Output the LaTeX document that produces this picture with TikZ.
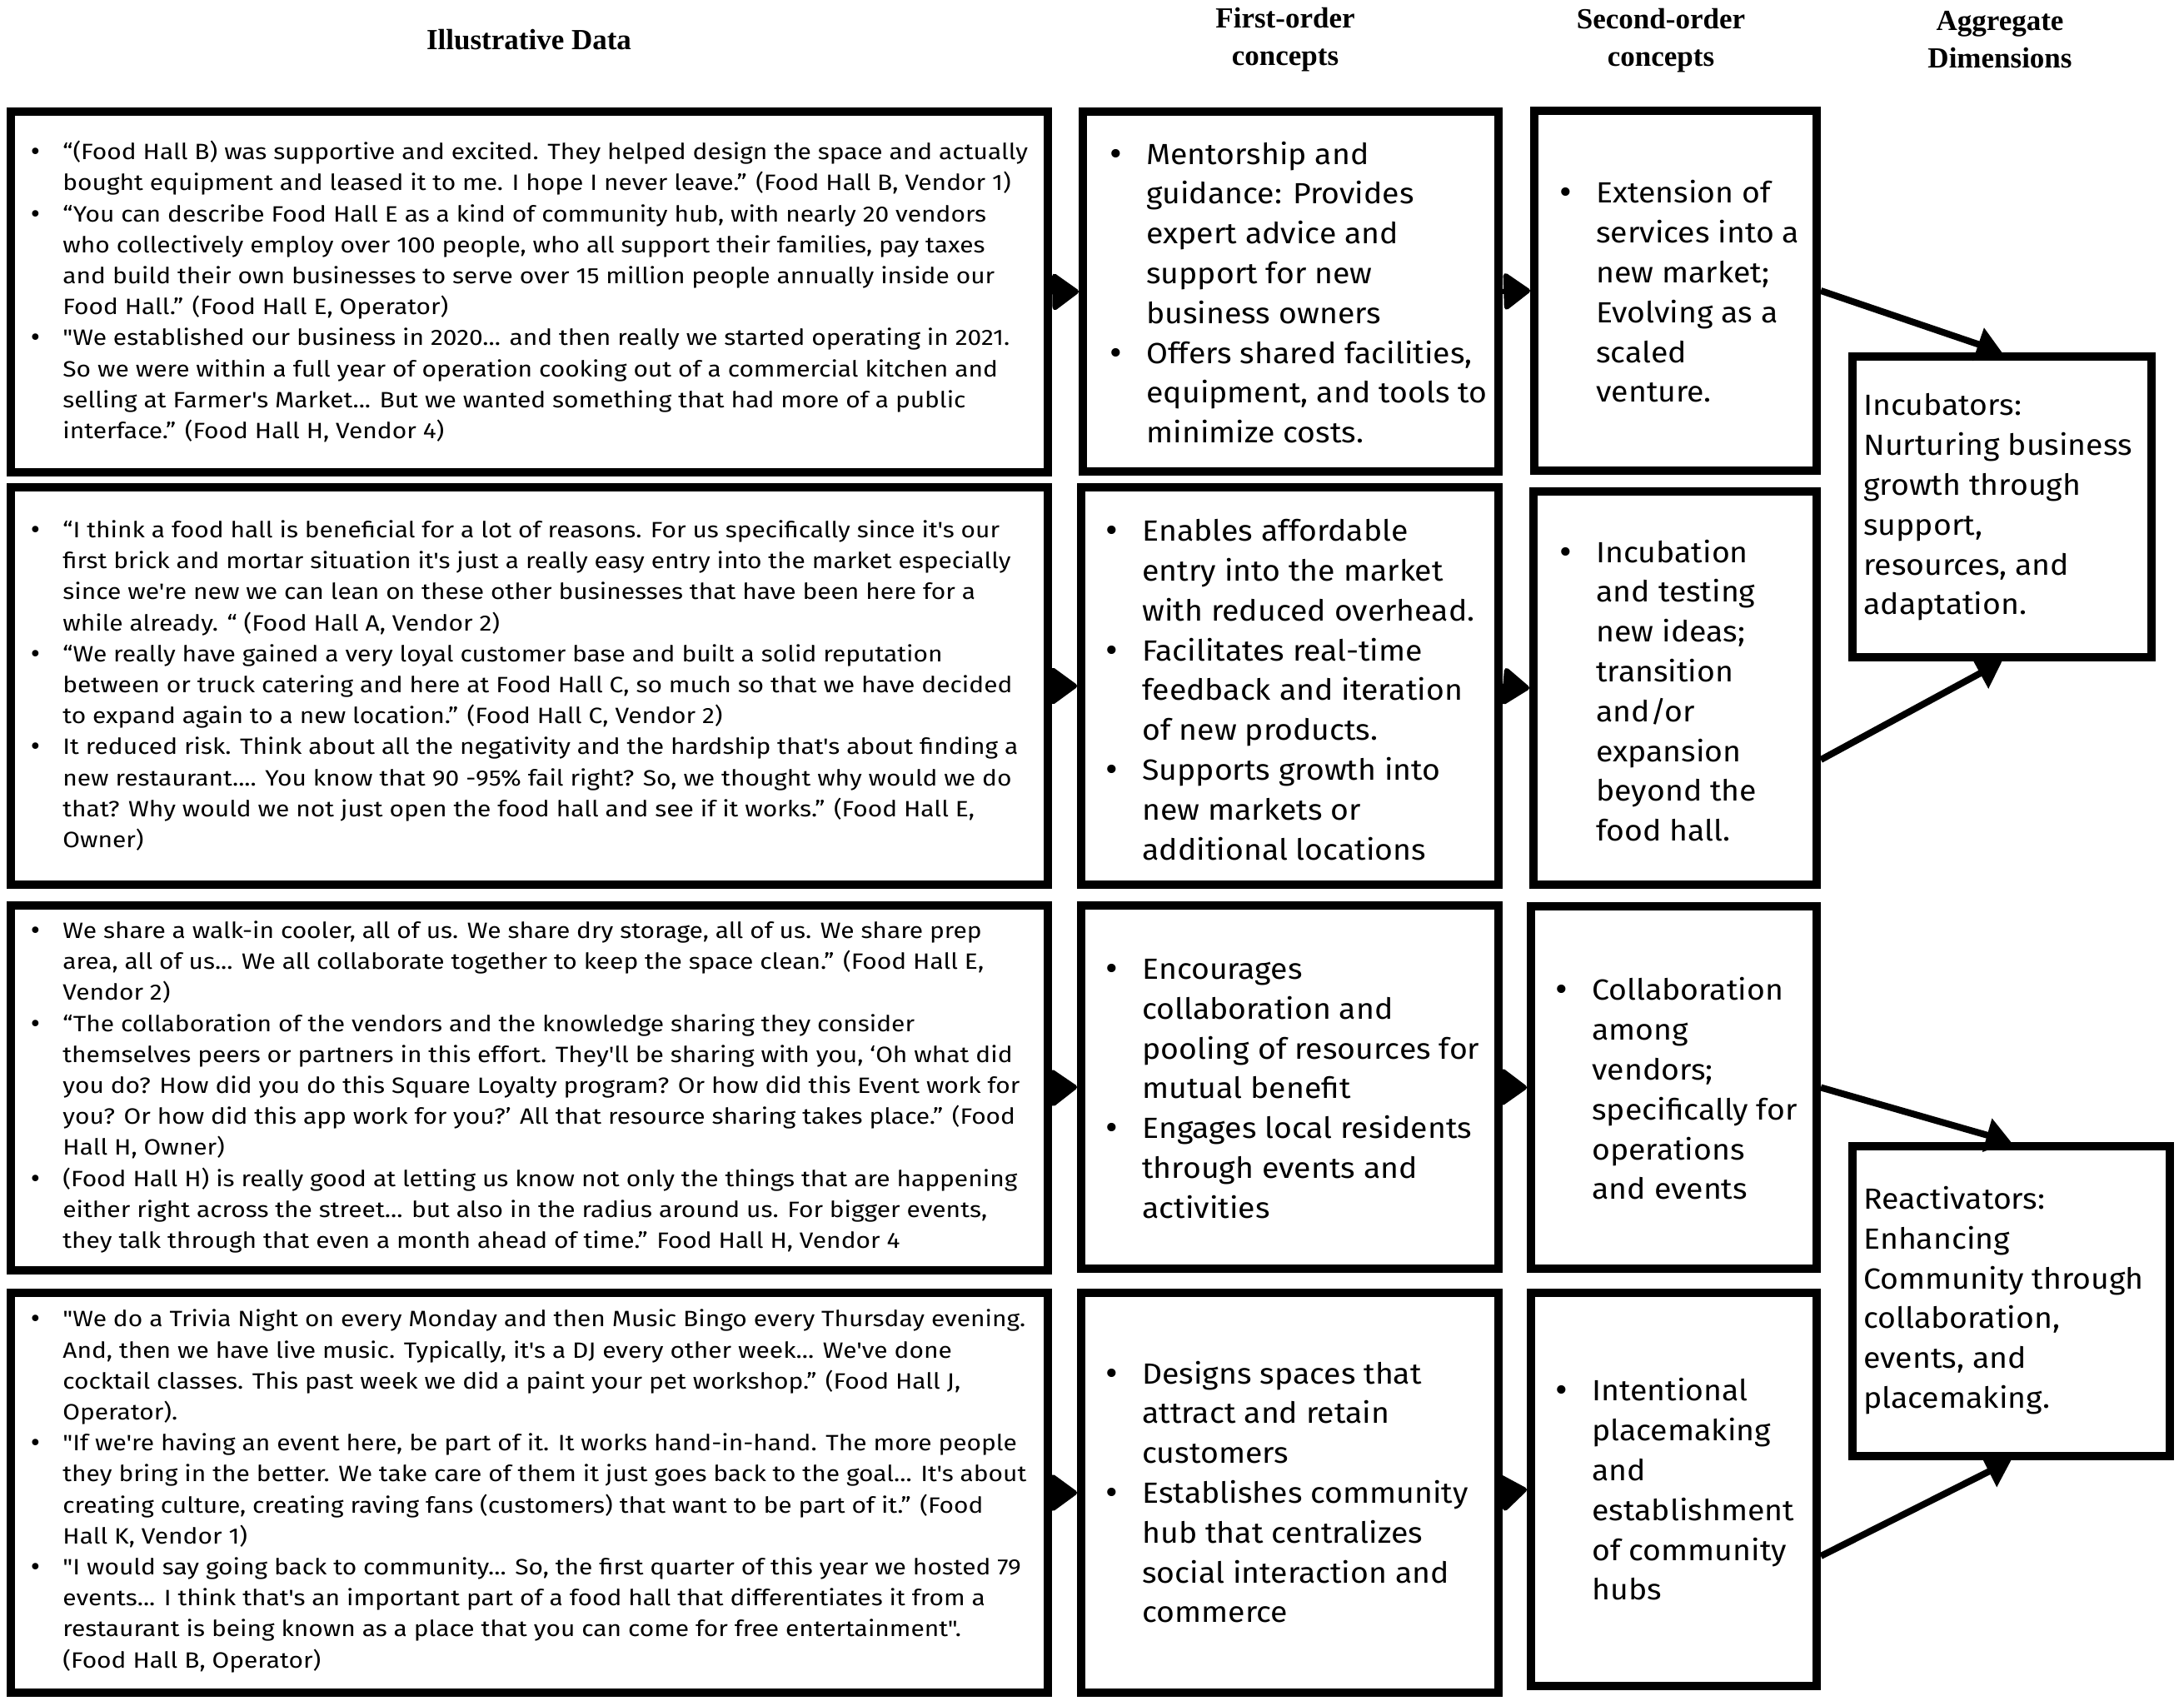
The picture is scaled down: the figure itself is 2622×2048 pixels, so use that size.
\documentclass[tikz,border=0pt]{standalone}
\usepackage{fontspec}
\setmainfont{Fira Sans}[Ligatures=TeXOff]
\newfontfamily\datafont{Fira Sans}[Ligatures=TeXOff, FakeStretch=1.125]
\newfontfamily\concfont{Fira Sans}[Ligatures=TeXOff, FakeStretch=1.07]
\newfontfamily\bulfont{DejaVu Sans}
\newfontfamily\hdfont{Liberation Serif}
\usetikzlibrary{arrows.meta,fit}
\newcommand{\bu}[1]{\llap{{\bulfont\textbullet}\hspace{#1}}}
\begin{document}
\begin{tikzpicture}[x=0.5pt,y=-0.5pt,
  box/.style={draw=black, line width=5pt, inner sep=0pt, fill=white},
  datatext/.style={anchor=west, inner sep=0pt, align=left, font=\datafont\fontsize{13.3pt}{18.6pt}\selectfont},
  conctext/.style={anchor=west, inner sep=0pt, align=left, font=\concfont\fontsize{17.5pt}{23.9pt}\selectfont},
  head/.style={align=center, inner sep=0pt, font=\hdfont\bfseries\fontsize{17.5pt}{22.5pt}\selectfont},
  chev/.style={line width=3pt, -{Triangle[length=17pt,width=24pt,round]}},
  diag/.style={line width=4pt, -{Triangle[length=15pt,width=20pt]}},
]
\fill[white] (0,0) rectangle (2622,2048);
\useasboundingbox (0,0) rectangle (2622,2048);

% headers
\node[head] (h0) at (635,48) {Illustrative Data};
\node[head] (h1) at (1543,48) {First-order\\concepts};
\node[head] (h2) at (1994,49) {Second-order\\concepts};
\node[head] (h3) at (2401,48) {Aggregate\\Dimensions};

% boxes
\node[box, fit={(13,134) (1258,567)}] (d1) {};
\node[box, fit={(1300,134) (1799,566)}] (f1) {};
\node[box, fit={(1842,133) (2181,565)}] (s1) {};
\node[box, fit={(13,585) (1258,1062)}] (d2) {};
\node[box, fit={(1298,585) (1799,1062)}] (f2) {};
\node[box, fit={(1841,590) (2181,1062)}] (s2) {};
\node[box, fit={(13,1087) (1258,1525)}] (d3) {};
\node[box, fit={(1298,1087) (1799,1523)}] (f3) {};
\node[box, fit={(1838,1088) (2181,1523)}] (s3) {};
\node[box, fit={(13,1552) (1258,2032)}] (d4) {};
\node[box, fit={(1298,1552) (1799,2032)}] (f4) {};
\node[box, fit={(1838,1552) (2181,2024)}] (s4) {};
\node[box, fit={(2224,428) (2583,789)}] (a1) {};
\node[box, fit={(2224,1376) (2605,1748)}] (a2) {};

% data texts
\node[datatext] (d1t) at (75,350) {%
\bu{12.6pt}“(Food Hall B) was supportive and excited. They helped design the space and actually\\
bought equipment and leased it to me. I hope I never leave.” (Food Hall B, Vendor 1)\\
\bu{12.6pt}“You can describe Food Hall E as a kind of community hub, with nearly 20 vendors\\
who collectively employ over 100 people, who all support their families, pay taxes\\
and build their own businesses to serve over 15 million people annually inside our\\
Food Hall.” (Food Hall E, Operator)\\
\bu{12.6pt}"We established our business in 2020... and then really we started operating in 2021.\\
So we were within a full year of operation cooking out of a commercial kitchen and\\
selling at Farmer's Market... But we wanted something that had more of a public\\
interface.” (Food Hall H, Vendor 4)};

\node[datatext] (d2t) at (75,823) {%
\bu{12.6pt}“I think a food hall is beneficial for a lot of reasons. For us specifically since it's our\\
first brick and mortar situation it's just a really easy entry into the market especially\\
since we're new we can lean on these other businesses that have been here for a\\
while already. “ (Food Hall A, Vendor 2)\\
\bu{12.6pt}“We really have gained a very loyal customer base and built a solid reputation\\
between or truck catering and here at Food Hall C, so much so that we have decided\\
to expand again to a new location.” (Food Hall C, Vendor 2)\\
\bu{12.6pt}It reduced risk. Think about all the negativity and the hardship that's about finding a\\
new restaurant.... You know that 90 -95\% fail right? So, we thought why would we do\\
that? Why would we not just open the food hall and see if it works.” (Food Hall E,\\
Owner)};

\node[datatext] (d3t) at (75,1305) {%
\bu{12.6pt}We share a walk-in cooler, all of us. We share dry storage, all of us. We share prep\\
area, all of us... We all collaborate together to keep the space clean.” (Food Hall E,\\
Vendor 2)\\
\bu{12.6pt}“The collaboration of the vendors and the knowledge sharing they consider\\
themselves peers or partners in this effort. They'll be sharing with you, ‘Oh what did\\
you do? How did you do this Square Loyalty program? Or how did this Event work for\\
you? Or how did this app work for you?’ All that resource sharing takes place.” (Food\\
Hall H, Owner)\\
\bu{12.6pt}(Food Hall H) is really good at letting us know not only the things that are happening\\
either right across the street... but also in the radius around us. For bigger events,\\
they talk through that even a month ahead of time.” Food Hall H, Vendor 4};

\node[datatext] (d4t) at (75,1790) {%
\bu{12.6pt}"We do a Trivia Night on every Monday and then Music Bingo every Thursday evening.\\
And, then we have live music. Typically, it's a DJ every other week... We've done\\
cocktail classes. This past week we did a paint your pet workshop.” (Food Hall J,\\
Operator).\\
\bu{12.6pt}"If we're having an event here, be part of it. It works hand-in-hand. The more people\\
they bring in the better. We take care of them it just goes back to the goal... It's about\\
creating culture, creating raving fans (customers) that want to be part of it.” (Food\\
Hall K, Vendor 1)\\
\bu{12.6pt}"I would say going back to community... So, the first quarter of this year we hosted 79\\
events... I think that's an important part of a food hall that differentiates it from a\\
restaurant is being known as a place that you can come for free entertainment".\\
(Food Hall B, Operator)};

% first-order texts
\node[conctext] (f1t) at (1376,351) {%
\bu{13.3pt}Mentorship and\\
guidance: Provides\\
expert advice and\\
support for new\\
business owners\\
\bu{13.3pt}Offers shared facilities,\\
equipment, and tools to\\
minimize costs.};
\node[conctext] (f2t) at (1371,828) {%
\bu{13.3pt}Enables affordable\\
entry into the market\\
with reduced overhead.\\
\bu{13.3pt}Facilitates real-time\\
feedback and iteration\\
of new products.\\
\bu{13.3pt}Supports growth into\\
new markets or\\
additional locations};
\node[conctext] (f3t) at (1371,1307) {%
\bu{13.3pt}Encourages\\
collaboration and\\
pooling of resources for\\
mutual benefit\\
\bu{13.3pt}Engages local residents\\
through events and\\
activities};
\node[conctext] (f4t) at (1371,1791) {%
\bu{13.3pt}Designs spaces that\\
attract and retain\\
customers\\
\bu{13.3pt}Establishes community\\
hub that centralizes\\
social interaction and\\
commerce};

% second-order texts
\node[conctext] (s1t) at (1916,350) {%
\bu{13.3pt}Extension of\\
services into a\\
new market;\\
Evolving as a\\
scaled\\
venture.};
\node[conctext] (s2t) at (1916,829) {%
\bu{13.3pt}Incubation\\
and testing\\
new ideas;\\
transition\\
and/or\\
expansion\\
beyond the\\
food hall.};
\node[conctext] (s3t) at (1911,1307) {%
\bu{13.3pt}Collaboration\\
among\\
vendors;\\
specifically for\\
operations\\
and events};
\node[conctext] (s4t) at (1911,1788) {%
\bu{13.3pt}Intentional\\
placemaking\\
and\\
establishment\\
of community\\
hubs};

% aggregate texts
\node[conctext] (a1t) at (2237,609) {%
Incubators:\\
Nurturing business\\
growth through\\
support,\\
resources, and\\
adaptation.};
\node[conctext] (a2t) at (2237,1561) {%
Reactivators:\\
Enhancing\\
Community through\\
collaboration,\\
events, and\\
placemaking.};

% chevron connectors
\draw[chev] (d1.east) -- (f1.west);
\draw[chev] (f1.east) -- (s1.west);
\draw[chev] (d2.east) -- (f2.west);
\draw[chev] (f2.east) -- (s2.west);
\draw[chev] (d3.east) -- (f3.west);
\draw[chev] (f3.east) -- (s3.west);
\draw[chev] (d4.east) -- (f4.west);
\draw[chev] (f4.east) -- (s4.west);

% diagonal connectors
\draw[diag] (s1.east) -- (a1.north);
\draw[diag] ([yshift=-43pt]s2.east) -- (a1.south);
\draw[diag] (s3.east) -- (a2.north);
\draw[diag] ([yshift=-40pt]s4.east) -- (a2.south);
\end{tikzpicture}
\end{document}
